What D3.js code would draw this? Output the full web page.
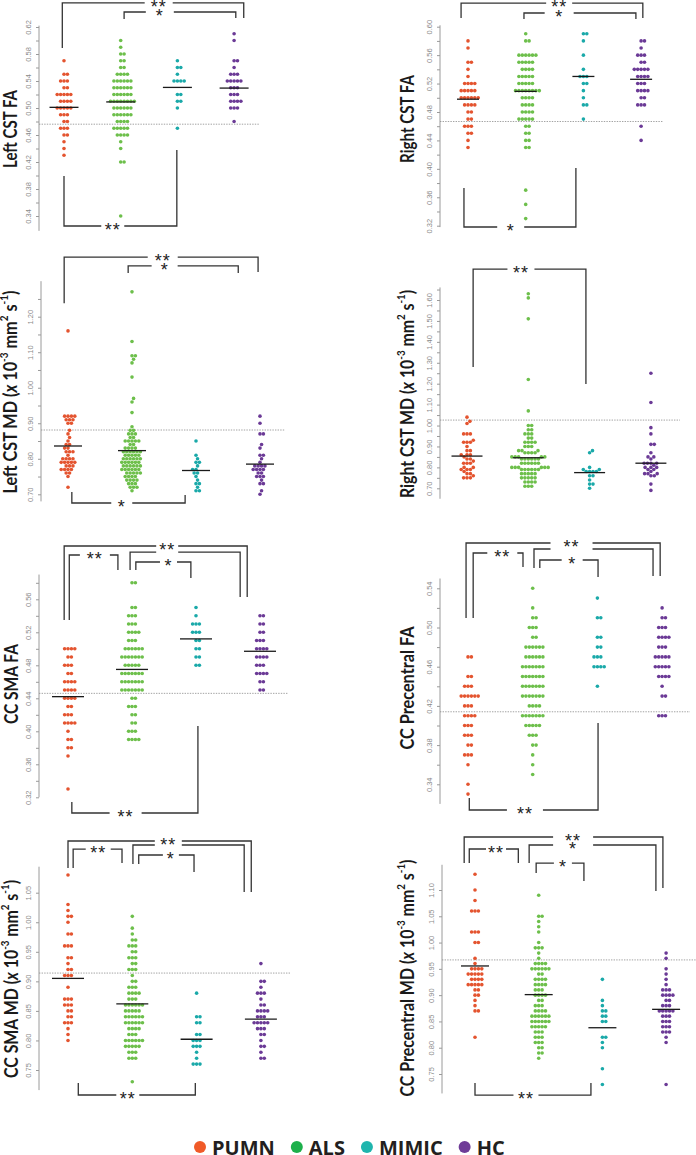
<!DOCTYPE html>
<html><head><meta charset="utf-8">
<script src="https://cdn.jsdelivr.net/npm/d3@7"></script>
<style>body{margin:0;background:#fff}svg{display:block}</style>
</head><body><svg id="c" width="696" height="1155"></svg>
<script>
// ---------------- DATA ----------------
const groups = ["PUMN","ALS","MIMIC","HC"];
const dotColors = ["#e4542f","#6dbf4b","#1aa9a9","#6b3a96"];
const legendColors = ["#f05a28","#1db04b","#1fb5ad","#6f3c97"];

// Left CST FA
const leftCstFA_PUMN = [0.57,0.55,0.55,0.54,0.54,0.54,0.53,0.53,0.52,0.52,0.52,0.52,0.52,0.51,0.51,0.51,0.51,0.50,0.50,0.50,0.50,0.50,0.49,0.49,0.49,0.48,0.48,0.47,0.47,0.47,0.46,0.46,0.45,0.44,0.43];
const leftCstFA_ALS = [0.60,0.59,0.58,0.58,0.57,0.57,0.56,0.56,0.55,0.55,0.55,0.55,0.54,0.54,0.54,0.54,0.54,0.54,0.53,0.53,0.53,0.53,0.53,0.53,0.52,0.52,0.52,0.52,0.52,0.52,0.51,0.51,0.51,0.51,0.51,0.51,0.51,0.51,0.50,0.50,0.50,0.50,0.50,0.50,0.49,0.49,0.49,0.49,0.49,0.49,0.48,0.48,0.48,0.48,0.47,0.47,0.47,0.47,0.47,0.46,0.46,0.46,0.46,0.45,0.44,0.42,0.42,0.34];
const leftCstFA_MIMIC = [0.57,0.56,0.56,0.55,0.54,0.54,0.54,0.54,0.52,0.52,0.51,0.51,0.50,0.47];
const leftCstFA_HC = [0.61,0.60,0.57,0.57,0.56,0.55,0.55,0.55,0.54,0.54,0.54,0.54,0.54,0.53,0.53,0.53,0.52,0.52,0.52,0.51,0.51,0.51,0.51,0.50,0.50,0.50,0.48];
const leftCstFA_means = [0.501,0.509,0.5305,0.5295];

// Right CST FA
const rightCstFA_PUMN = [0.58,0.57,0.55,0.55,0.54,0.53,0.52,0.52,0.52,0.52,0.51,0.51,0.51,0.51,0.51,0.50,0.50,0.50,0.50,0.50,0.50,0.49,0.49,0.49,0.49,0.48,0.48,0.47,0.47,0.46,0.46,0.46,0.45,0.45,0.44,0.43];
const rightCstFA_ALS = [0.59,0.58,0.58,0.56,0.56,0.56,0.56,0.56,0.56,0.55,0.55,0.55,0.55,0.55,0.54,0.54,0.54,0.54,0.53,0.53,0.53,0.53,0.53,0.52,0.52,0.52,0.52,0.52,0.51,0.51,0.51,0.51,0.51,0.51,0.51,0.51,0.50,0.50,0.50,0.50,0.49,0.49,0.49,0.49,0.48,0.48,0.48,0.48,0.47,0.47,0.47,0.47,0.47,0.46,0.46,0.45,0.45,0.44,0.44,0.43,0.43,0.37,0.35,0.33];
const rightCstFA_MIMIC = [0.59,0.59,0.58,0.56,0.54,0.53,0.53,0.53,0.52,0.52,0.51,0.50,0.49,0.49,0.47];
const rightCstFA_HC = [0.58,0.58,0.57,0.56,0.56,0.56,0.55,0.55,0.54,0.54,0.54,0.54,0.54,0.53,0.53,0.53,0.53,0.52,0.52,0.52,0.51,0.51,0.51,0.51,0.50,0.50,0.49,0.49,0.49,0.46,0.44];
const rightCstFA_means = [0.498,0.509,0.530,0.526];

// Left CST MD
const leftCstMD_PUMN = [1.16,0.92,0.92,0.92,0.92,0.91,0.91,0.91,0.90,0.90,0.88,0.87,0.86,0.85,0.84,0.84,0.83,0.83,0.82,0.82,0.82,0.81,0.80,0.80,0.80,0.80,0.79,0.79,0.79,0.79,0.79,0.78,0.78,0.78,0.77,0.77,0.77,0.77,0.76,0.76,0.75,0.72];
const leftCstMD_ALS = [1.27,1.13,1.09,1.09,1.08,1.07,1.03,0.97,0.96,0.93,0.89,0.88,0.88,0.87,0.87,0.87,0.86,0.86,0.85,0.85,0.85,0.85,0.85,0.84,0.84,0.83,0.83,0.83,0.83,0.82,0.82,0.82,0.82,0.82,0.82,0.81,0.81,0.81,0.81,0.81,0.80,0.80,0.80,0.80,0.80,0.80,0.79,0.79,0.79,0.79,0.79,0.79,0.78,0.78,0.78,0.78,0.78,0.78,0.77,0.77,0.77,0.77,0.77,0.77,0.76,0.76,0.76,0.76,0.76,0.75,0.75,0.75,0.75,0.74,0.74,0.74,0.74,0.73,0.73,0.73,0.72,0.72,0.72,0.71];
const leftCstMD_MIMIC = [0.85,0.81,0.80,0.79,0.79,0.78,0.77,0.77,0.76,0.76,0.75,0.74,0.73,0.73,0.72,0.71,0.71];
const leftCstMD_HC = [0.92,0.90,0.87,0.87,0.84,0.83,0.81,0.81,0.80,0.79,0.78,0.78,0.78,0.78,0.77,0.77,0.77,0.77,0.76,0.76,0.75,0.75,0.75,0.74,0.73,0.73,0.71,0.70];
const leftCstMD_means = [0.836,0.823,0.767,0.785];

// Right CST MD
const rightCstMD_PUMN = [1.04,1.02,1.01,0.96,0.96,0.96,0.93,0.92,0.92,0.92,0.90,0.88,0.88,0.86,0.86,0.86,0.85,0.84,0.84,0.83,0.82,0.82,0.82,0.80,0.80,0.79,0.79,0.79,0.78,0.77,0.77,0.76,0.75,0.75,0.75];
const rightCstMD_ALS = [1.63,1.61,1.51,1.22,1.07,1.00,1.00,0.98,0.98,0.96,0.96,0.96,0.94,0.94,0.92,0.92,0.92,0.92,0.90,0.90,0.90,0.88,0.88,0.88,0.87,0.87,0.87,0.87,0.85,0.85,0.85,0.85,0.85,0.84,0.84,0.84,0.84,0.84,0.84,0.82,0.82,0.82,0.82,0.82,0.82,0.80,0.80,0.80,0.80,0.80,0.80,0.79,0.79,0.79,0.79,0.79,0.79,0.77,0.77,0.77,0.77,0.77,0.75,0.75,0.75,0.75,0.75,0.73,0.73,0.73,0.73,0.71,0.71,0.71];
const rightCstMD_MIMIC = [0.88,0.87,0.80,0.79,0.79,0.78,0.78,0.78,0.78,0.76,0.76,0.74,0.72,0.72,0.70];
const rightCstMD_HC = [1.25,1.11,0.99,0.96,0.91,0.91,0.87,0.85,0.85,0.84,0.82,0.82,0.82,0.82,0.81,0.80,0.80,0.80,0.79,0.79,0.78,0.77,0.77,0.77,0.76,0.76,0.72,0.69];
const rightCstMD_means = [0.854,0.846,0.775,0.820];

// CC SMA FA
const ccSmaFA_PUMN = [0.50,0.50,0.50,0.50,0.49,0.49,0.48,0.48,0.48,0.47,0.47,0.46,0.46,0.46,0.46,0.45,0.45,0.45,0.45,0.44,0.44,0.44,0.44,0.43,0.43,0.42,0.42,0.42,0.41,0.41,0.41,0.41,0.40,0.39,0.39,0.38,0.38,0.37,0.33];
const ccSmaFA_ALS = [0.58,0.58,0.55,0.55,0.54,0.54,0.54,0.53,0.53,0.53,0.52,0.52,0.52,0.52,0.51,0.51,0.51,0.50,0.50,0.50,0.50,0.50,0.50,0.49,0.49,0.49,0.49,0.49,0.49,0.49,0.48,0.48,0.48,0.48,0.48,0.47,0.47,0.47,0.47,0.47,0.47,0.47,0.46,0.46,0.46,0.46,0.46,0.46,0.46,0.45,0.45,0.45,0.45,0.45,0.45,0.45,0.44,0.44,0.43,0.43,0.43,0.42,0.42,0.41,0.41,0.40,0.40,0.40,0.39,0.39,0.39,0.39];
const ccSmaFA_MIMIC = [0.55,0.54,0.53,0.53,0.53,0.52,0.52,0.52,0.51,0.51,0.50,0.50,0.49,0.49,0.48,0.48];
const ccSmaFA_HC = [0.54,0.54,0.53,0.53,0.52,0.52,0.51,0.51,0.51,0.50,0.50,0.50,0.50,0.49,0.49,0.49,0.49,0.48,0.48,0.48,0.47,0.47,0.47,0.47,0.46,0.46,0.45,0.45];
const ccSmaFA_means = [0.442,0.475,0.512,0.497];

// CC Precentral FA
const ccPrecFA_PUMN = [0.47,0.47,0.45,0.45,0.44,0.44,0.44,0.43,0.43,0.43,0.43,0.43,0.43,0.42,0.42,0.42,0.41,0.41,0.41,0.41,0.40,0.40,0.40,0.39,0.39,0.39,0.38,0.38,0.37,0.37,0.37,0.36,0.34,0.33];
const ccPrecFA_ALS = [0.54,0.52,0.51,0.51,0.50,0.50,0.50,0.49,0.49,0.48,0.48,0.48,0.48,0.48,0.48,0.47,0.47,0.47,0.47,0.47,0.47,0.46,0.46,0.46,0.46,0.46,0.46,0.46,0.45,0.45,0.45,0.45,0.45,0.45,0.45,0.44,0.44,0.44,0.44,0.44,0.44,0.44,0.43,0.43,0.43,0.43,0.43,0.43,0.43,0.42,0.42,0.42,0.42,0.41,0.41,0.41,0.41,0.41,0.41,0.41,0.40,0.40,0.40,0.40,0.40,0.39,0.39,0.39,0.38,0.38,0.37,0.36,0.35];
const ccPrecFA_MIMIC = [0.53,0.51,0.51,0.49,0.49,0.48,0.48,0.47,0.47,0.47,0.46,0.46,0.46,0.46,0.44];
const ccPrecFA_HC = [0.52,0.51,0.51,0.50,0.50,0.50,0.49,0.49,0.49,0.49,0.48,0.48,0.48,0.47,0.47,0.47,0.47,0.47,0.46,0.46,0.46,0.46,0.46,0.45,0.45,0.45,0.45,0.44,0.43,0.43,0.41,0.41,0.41];
const ccPrecFA_means = null;

// CC SMA MD
const ccSmaMD_PUMN = [1.08,1.03,1.02,1.01,1.01,1.00,0.98,0.98,0.96,0.96,0.96,0.94,0.94,0.93,0.92,0.92,0.91,0.91,0.91,0.89,0.87,0.87,0.87,0.86,0.86,0.86,0.85,0.85,0.84,0.84,0.83,0.83,0.83,0.82,0.81,0.80];
const ccSmaMD_ALS = [1.01,0.99,0.98,0.97,0.97,0.96,0.96,0.96,0.95,0.95,0.94,0.94,0.94,0.93,0.93,0.92,0.92,0.92,0.91,0.90,0.90,0.89,0.89,0.89,0.88,0.88,0.88,0.88,0.87,0.87,0.87,0.86,0.86,0.86,0.86,0.86,0.86,0.85,0.85,0.85,0.85,0.85,0.84,0.84,0.84,0.84,0.84,0.84,0.83,0.83,0.83,0.83,0.83,0.83,0.82,0.82,0.82,0.82,0.81,0.81,0.81,0.80,0.80,0.80,0.80,0.80,0.80,0.79,0.79,0.79,0.79,0.79,0.78,0.78,0.78,0.77,0.77,0.77,0.73];
const ccSmaMD_MIMIC = [0.88,0.84,0.84,0.83,0.83,0.81,0.81,0.80,0.80,0.80,0.79,0.79,0.79,0.78,0.77,0.76,0.76,0.76];
const ccSmaMD_HC = [0.93,0.90,0.90,0.89,0.88,0.88,0.88,0.87,0.86,0.86,0.85,0.85,0.85,0.85,0.84,0.84,0.84,0.83,0.83,0.83,0.83,0.83,0.82,0.82,0.82,0.81,0.81,0.80,0.79,0.79,0.78,0.77,0.77];
const ccSmaMD_means = [0.905,0.862,0.802,0.836];

// CC Precentral MD
const ccPrecMD_PUMN = [1.13,1.10,1.08,1.06,1.06,1.06,1.02,1.02,1.02,1.00,1.00,0.97,0.96,0.95,0.95,0.95,0.95,0.94,0.94,0.94,0.94,0.94,0.93,0.93,0.93,0.93,0.92,0.92,0.92,0.92,0.92,0.91,0.91,0.90,0.90,0.89,0.88,0.87,0.87,0.82];
const ccPrecMD_ALS = [1.09,1.05,1.05,1.04,1.03,1.02,1.00,0.99,0.99,0.99,0.98,0.97,0.96,0.96,0.96,0.96,0.95,0.95,0.95,0.95,0.95,0.95,0.94,0.94,0.93,0.93,0.93,0.93,0.92,0.92,0.92,0.92,0.91,0.91,0.91,0.90,0.90,0.90,0.90,0.89,0.89,0.88,0.88,0.88,0.87,0.87,0.87,0.87,0.86,0.86,0.86,0.86,0.86,0.86,0.85,0.85,0.85,0.85,0.85,0.85,0.84,0.84,0.84,0.84,0.84,0.83,0.83,0.83,0.82,0.82,0.82,0.81,0.81,0.81,0.80,0.80,0.79,0.79,0.78];
const ccPrecMD_MIMIC = [0.93,0.89,0.88,0.87,0.87,0.86,0.86,0.85,0.85,0.82,0.82,0.81,0.80,0.76,0.73];
const ccPrecMD_HC = [0.98,0.97,0.95,0.94,0.93,0.92,0.91,0.91,0.91,0.90,0.90,0.90,0.90,0.89,0.89,0.88,0.88,0.88,0.87,0.87,0.87,0.87,0.87,0.86,0.86,0.86,0.85,0.85,0.85,0.84,0.84,0.84,0.83,0.83,0.83,0.82,0.81,0.73];
const ccPrecMD_means = [0.9555,0.901,0.838,0.873];

// control reference (dotted) levels per panel
const refLevels = [0.476,0.4666,0.881,1.026,0.446,0.414,0.914,0.967];

// ---------------- LAYOUT ----------------
const panels = [
 {title:"Left CST FA", md:false, data:[leftCstFA_PUMN,leftCstFA_ALS,leftCstFA_MIMIC,leftCstFA_HC], means:leftCstFA_means, ref:refLevels[0],
  dom:[0.34,0.62], rng:[216,27], axisX:39, x0:64, step:56.7, meanHalf:14.5, refEnd:260,
  ticks:[0.34,0.62,0.02], labelEvery:2, line:[0.318,0.622], tx:10, ty:129, tlen:78,
  brackets:[{a:-0.03,b:3.17,y:0.6556,l1:0.5889,l2:0.6333,label:"**",lx:1.67,gap:28},
            {a:1.06,b:3.03,y:0.6422,l1:0.6319,l2:0.6333,label:"*",lx:1.69,gap:28},
            {a:0,b:1.99,y:0.3252,l1:0.3993,l2:0.4378,label:"**",lx:0.86,gap:23}]},
 {title:"Right CST FA", md:false, data:[rightCstFA_PUMN,rightCstFA_ALS,rightCstFA_MIMIC,rightCstFA_HC], means:rightCstFA_means, ref:refLevels[1],
  dom:[0.32,0.60], rng:[225.7,26.7], axisX:440, x0:468, step:57.7, meanHalf:11, refEnd:663,
  ticks:[0.32,0.60,0.02], labelEvery:2, line:[0.318,0.602], tx:407, ty:119, tlen:88,
  brackets:[{a:-0.12,b:3.03,y:0.6333,l1:0.6122,l2:0.6122,label:"**",lx:1.58,gap:26},
            {a:0.97,b:2.91,y:0.6193,l1:0.6108,l2:0.6108,label:"*",lx:1.58,gap:29},
            {a:-0.07,b:1.87,y:0.3182,l1:0.3731,l2:0.4013,label:"*",lx:0.74,gap:27}]},
 {title:"Left CST MD", md:true, data:[leftCstMD_PUMN,leftCstMD_ALS,leftCstMD_MIMIC,leftCstMD_HC], means:leftCstMD_means, ref:refLevels[2],
  dom:[0.70,1.20], rng:[494.3,316.7], axisX:41, x0:68, step:64, meanHalf:14, refEnd:285,
  ticks:[0.70,1.25,0.05], labelEvery:2, line:[0.68,1.30], tx:10, ty:392, tlen:203,
  brackets:[{a:-0.06,b:2.97,y:1.368,l1:1.238,l2:1.326,label:"**",lx:1.48,gap:30},
            {a:0.94,b:2.66,y:1.343,l1:1.323,l2:1.323,label:"*",lx:1.51,gap:26},
            {a:0.06,b:1.83,y:0.6755,l1:0.7065,l2:0.698,label:"*",lx:0.84,gap:21}]},
 {title:"Right CST MD", md:true, data:[rightCstMD_PUMN,rightCstMD_ALS,rightCstMD_MIMIC,rightCstMD_HC], means:rightCstMD_means, ref:refLevels[3],
  dom:[0.70,1.60], rng:[488.3,300], axisX:440, x0:467, step:61.3, meanHalf:15.5, refEnd:680,
  ticks:[0.70,1.65,0.05], labelEvery:2, line:[0.65,1.66], tx:407, ty:394, tlen:208,
  brackets:[{a:0.10,b:1.94,y:1.748,l1:1.280,l2:1.199,label:"**",lx:0.88,gap:27}]},
 {title:"CC SMA FA", md:false, data:[ccSmaFA_PUMN,ccSmaFA_ALS,ccSmaFA_MIMIC,ccSmaFA_HC], means:ccSmaFA_means, ref:refLevels[4],
  dom:[0.32,0.56], rng:[797.3,599.3], axisX:39, x0:68, step:64, meanHalf:16, refEnd:288,
  ticks:[0.32,0.58,0.02], labelEvery:2, line:[0.32,0.59], tx:11, ty:684, tlen:80,
  brackets:[{a:-0.06,b:2.80,y:0.6246,l1:0.5349,l2:0.5628,label:"**",lx:1.55,gap:22},
            {a:0.97,b:2.69,y:0.6173,l1:0.5955,l2:0.5628,label:"",lx:1.55,gap:22},
            {a:0.02,b:0.78,y:0.6137,l1:0.5349,l2:0.5955,label:"**",lx:0.42,gap:30},
            {a:1.06,b:1.92,y:0.6052,l1:0.5955,l2:0.5858,label:"*",lx:1.57,gap:17},
            {a:0.06,b:2.03,y:0.301,l1:0.3143,l2:0.4064,label:"**",lx:0.90,gap:32}]},
 {title:"CC Precentral FA", md:false, data:[ccPrecFA_PUMN,ccPrecFA_ALS,ccPrecFA_MIMIC,ccPrecFA_HC], means:ccPrecFA_means, ref:refLevels[5],
  dom:[0.34,0.54], rng:[784.3,588.3], axisX:440, x0:468, step:64.7, meanHalf:0, refEnd:690,
  ticks:[0.34,0.54,0.02], labelEvery:2, line:[0.32,0.55], tx:407, ty:688, tlen:123,
  brackets:[{a:-0.03,b:2.97,y:0.5862,l1:0.5097,l2:0.5526,label:"**",lx:1.60,gap:42},
            {a:1.02,b:2.86,y:0.5801,l1:0.5607,l2:0.5526,label:"",lx:1.60,gap:42},
            {a:0.08,b:0.85,y:0.576,l1:0.5097,l2:0.5617,label:"**",lx:0.53,gap:30},
            {a:1.11,b:2.01,y:0.5689,l1:0.5607,l2:0.5516,label:"*",lx:1.61,gap:21},
            {a:0.02,b:2.01,y:0.3138,l1:0.326,l2:0.4026,label:"**",lx:0.88,gap:36}]},
 {title:"CC SMA MD", md:true, data:[ccSmaMD_PUMN,ccSmaMD_ALS,ccSmaMD_MIMIC,ccSmaMD_HC], means:ccSmaMD_means, ref:refLevels[6],
  dom:[0.75,1.05], rng:[1070,892.7], axisX:39, x0:68, step:64.3, meanHalf:16, refEnd:290,
  ticks:[0.75,1.05,0.05], labelEvery:1, line:[0.716,1.094], tx:11, ty:979, tlen:198,
  brackets:[{a:0,b:2.85,y:1.1375,l1:1.0918,l2:1.0512,label:"**",lx:1.56,gap:27},
            {a:1.01,b:2.74,y:1.1307,l1:1.0986,l2:1.0512,label:"",lx:1.56,gap:27},
            {a:0.08,b:0.84,y:1.1239,l1:1.0918,l2:1.1002,label:"**",lx:0.47,gap:25},
            {a:1.10,b:1.96,y:1.1138,l1:1.0986,l2:1.085,label:"*",lx:1.60,gap:16},
            {a:0.16,b:1.98,y:0.7077,l1:0.728,l2:0.728,label:"**",lx:0.93,gap:23}]},
 {title:"CC Precentral MD", md:true, data:[ccPrecMD_PUMN,ccPrecMD_ALS,ccPrecMD_MIMIC,ccPrecMD_HC], means:ccPrecMD_means, ref:refLevels[7],
  dom:[0.75,1.10], rng:[1074,890], axisX:442, x0:475, step:63.7, meanHalf:14, refEnd:697,
  ticks:[0.75,1.10,0.05], labelEvery:1, line:[0.713,1.148], tx:407, ty:978, tlen:237,
  brackets:[{a:-0.17,b:2.95,y:1.2008,l1:1.1513,l2:1.1038,label:"**",lx:1.54,gap:40},
            {a:0.85,b:2.84,y:1.1856,l1:1.1513,l2:1.0981,label:"*",lx:1.54,gap:40},
            {a:-0.09,b:0.68,y:1.178,l1:1.1513,l2:1.1513,label:"**",lx:0.33,gap:20},
            {a:0.96,b:1.71,y:1.1513,l1:1.1323,l2:1.1171,label:"*",lx:1.38,gap:18},
            {a:0,b:1.82,y:0.71,l1:0.7329,l2:0.7329,label:"**",lx:0.80,gap:25}]}
];

// ---------------- DRAW ----------------
const svg = d3.select("#c");
const DOT_R = 1.8, DX = 3.4, DY = 4.0;

function swarm(values, ys) {
  const order = values.map((v,i)=>i).sort((a,b)=>values[a]-values[b]);
  const placed = [], out = new Array(values.length);
  for (const i of order) {
    const yy = ys(values[i]);
    const near = placed.filter(p => Math.abs(p.y - yy) < DY);
    const cands = [0];
    near.forEach(p => {
      const t = (p.y - yy) / DY;
      const w = DX * Math.sqrt(Math.max(0, 1 - t*t));
      cands.push(p.x + w, p.x - w);
    });
    cands.sort((a,b)=>Math.abs(a)-Math.abs(b) || b-a);
    let chosen = cands[cands.length-1];
    for (const c of cands) {
      if (near.every(p => { const ex=(p.x-c)/DX, ey=(p.y-yy)/DY; return ex*ex+ey*ey >= 0.998; })) { chosen = c; break; }
    }
    placed.push({x:chosen, y:yy});
    out[i] = chosen;
  }
  return out;
}

panels.forEach(p => {
  const g = svg.append("g");
  const y = d3.scaleLinear().domain(p.dom).range(p.rng);
  const x = d3.scaleLinear().domain([0,3]).range([p.x0, p.x0 + 3*p.step]);

  // axis
  const tickVals = d3.range(Math.round((p.ticks[1]-p.ticks[0])/p.ticks[2]) + 1).map(i => +(p.ticks[0] + i*p.ticks[2]).toFixed(3));
  const axis = d3.axisLeft(y).tickValues(tickVals).tickSize(3).tickPadding(0)
     .tickFormat((d,i) => i % p.labelEvery === 0 ? d3.format(".2f")(d) : "");
  const ag = g.append("g").attr("transform", `translate(${p.axisX},0)`).call(axis);
  ag.select(".domain").remove();
  ag.append("line").attr("y1", y(p.line[0])).attr("y2", y(p.line[1])).attr("stroke","#9a9a9a").attr("stroke-width",1);
  ag.selectAll(".tick line").attr("stroke","#9a9a9a");
  ag.selectAll(".tick text")
    .attr("x", null).attr("dy", null)
    .attr("transform","translate(-11,0) rotate(-90)")
    .attr("text-anchor","middle").attr("dominant-baseline","central")
    .attr("fill","#8a8a8a").style("font-family","'Liberation Sans', Arial, sans-serif").style("font-size","7.5px");

  // reference dotted line
  g.append("line").attr("x1", p.axisX).attr("x2", p.refEnd).attr("y1", y(p.ref)).attr("y2", y(p.ref))
    .attr("stroke","#8c8c8c").attr("stroke-width",0.8).attr("stroke-dasharray","1.4,1.2");

  // dots
  p.data.forEach((vals, gi) => {
    const offs = swarm(vals, y);
    g.append("g").selectAll("circle").data(vals).join("circle")
      .attr("cx", (d,i) => x(gi) + offs[i]).attr("cy", d => y(d)).attr("r", DOT_R)
      .attr("fill", dotColors[gi]);
  });

  // mean lines
  if (p.means) {
    g.append("g").selectAll("line").data(p.means).join("line")
      .attr("x1",(d,i)=>x(i)-p.meanHalf).attr("x2",(d,i)=>x(i)+p.meanHalf)
      .attr("y1", d=>y(d)).attr("y2", d=>y(d))
      .attr("stroke","#1a1a1a").attr("stroke-width",1.3);
  }

  // significance brackets
  p.brackets.forEach(b => {
    const xa = x(b.a), xb = x(b.b), yb = y(b.y), lx = x(b.lx), h = b.gap/2;
    g.append("path")
      .attr("d", `M${xa},${y(b.l1)}V${yb}H${lx-h}M${lx+h},${yb}H${xb}V${y(b.l2)}`)
      .attr("fill","none").attr("stroke","#333").attr("stroke-width",1.3);
    if (b.label) {
      g.append("text").attr("x", lx).attr("y", yb + 10.2).attr("text-anchor","middle")
        .style("font-family","'Liberation Sans', Arial, sans-serif").style("font-size","18px")
        .style("letter-spacing","1px").attr("fill","#222").text(b.label);
    }
  });

  // y title
  const t = g.append("text").attr("transform", `translate(${p.tx},${p.ty}) rotate(-90)`)
    .attr("text-anchor","middle").attr("dominant-baseline","central")
    .style("font-family","Lato, 'Open Sans', sans-serif").style("font-weight","bold").style("font-size","18px")
    .attr("fill","#1a1a1a");
  if (p.md) {
    t.append("tspan").text(p.title + " (");
    t.append("tspan").style("font-style","italic").text("x");
    t.append("tspan").text(" 10");
    t.append("tspan").attr("baseline-shift","super").style("font-size","11px").text("-3");
    t.append("tspan").text(" mm");
    t.append("tspan").attr("baseline-shift","super").style("font-size","11px").text("2");
    t.append("tspan").text(" s");
    t.append("tspan").attr("baseline-shift","super").style("font-size","11px").text("-1");
    t.append("tspan").text(")");
  } else {
    t.text(p.title);
  }
  t.attr("textLength", p.tlen).attr("lengthAdjust","spacingAndGlyphs");
});

// legend
const lg = svg.append("g");
let cx = 200;
groups.forEach((name, i) => {
  lg.append("circle").attr("cx", cx).attr("cy", 1147).attr("r", 6).attr("fill", legendColors[i]);
  const tx = lg.append("text").attr("x", cx + 12).attr("y", 1147).attr("dominant-baseline","central")
    .style("font-family","'Open Sans', sans-serif").style("font-weight","bold").style("font-size","20px")
    .attr("fill","#231f20").text(name);
  cx = cx + 12 + tx.node().getComputedTextLength() + 22;
});
</script>
</body></html>
